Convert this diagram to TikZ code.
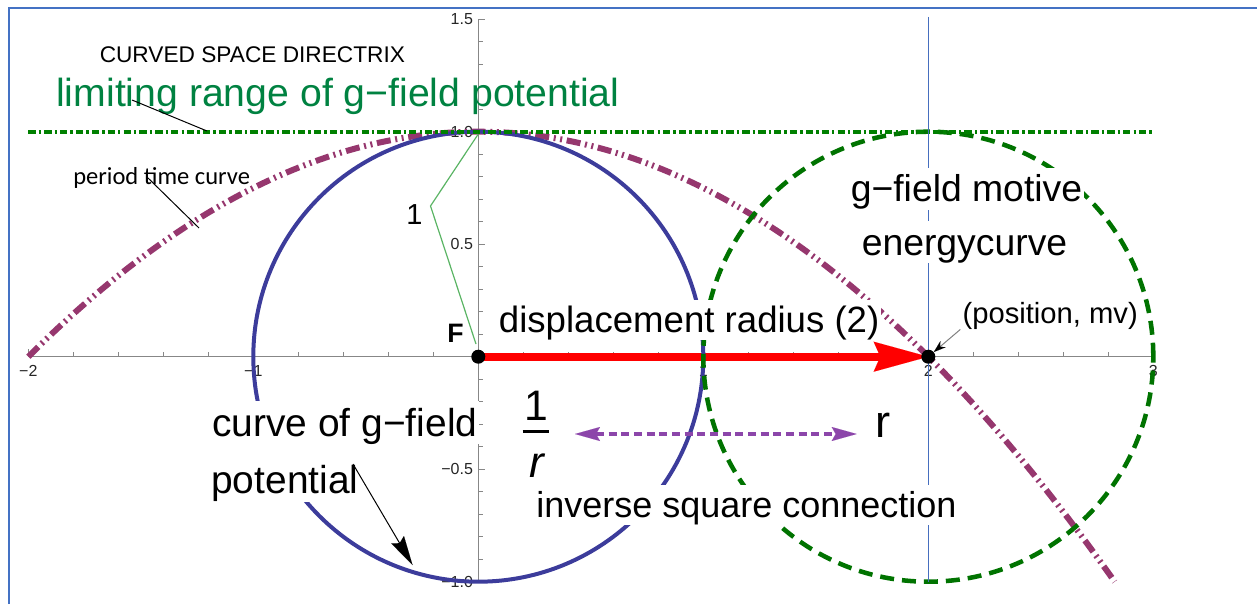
\documentclass[tikz,border=0pt]{standalone}
\usepackage{fontspec}
\setmainfont{Liberation Sans}
\newfontfamily\calib{Carlito}
\usetikzlibrary{arrows.meta}
\definecolor{framec}{RGB}{68,114,196}
\definecolor{axisc}{RGB}{135,135,135}
\definecolor{bluecircc}{RGB}{60,60,155}
\definecolor{greencircc}{RGB}{0,115,0}
\definecolor{limlinec}{RGB}{0,128,0}
\definecolor{parabc}{RGB}{150,55,110}
\definecolor{vlinec}{RGB}{70,110,190}
\definecolor{limc}{RGB}{0,130,65}
\definecolor{brkc}{RGB}{90,180,100}
\definecolor{purpc}{RGB}{140,70,170}
\newcommand\fsz[1]{\fontsize{#1}{#1}\selectfont}
\newcommand\mst{\rule[-0.212em]{0pt}{1.117em}}
\begin{document}
\begin{tikzpicture}[x=0.75pt,y=-0.75pt,
  lab/.style={anchor=base west, inner sep=0pt},
  boxlab/.style={anchor=base west, inner xsep=1.5pt, inner ysep=0pt, fill=white},
  ticklab/.style={inner sep=0pt, font=\fsz{12pt}, text=black!85},
  axisline/.style={draw=axisc, line width=0.9pt},
  dotn/.style={circle, fill=black, inner sep=0pt, minimum size=10.5pt},
  ptr/.style={draw=black, line width=0.75pt},
  bluecirc/.style={draw=bluecircc, line width=3pt},
  greencirc/.style={draw=greencircc, line width=3.4pt, dash pattern=on 10.5pt off 6pt},
  parab/.style={draw=parabc, line width=4.5pt, dash pattern=on 10.5pt off 3.5pt on 1.5pt off 3.4pt on 1.5pt off 3.5pt},
  limline/.style={draw=limlinec, line width=2.8pt, dash pattern=on 5.5pt off 2.3pt on 1.8pt off 2.3pt},
  vline/.style={draw=vlinec, line width=1.1pt},
  brk/.style={draw=brkc, line width=0.9pt},
  purp/.style={draw=purpc, line width=3pt, dash pattern=on 6pt off 3.5pt},
]
\useasboundingbox (0,0) rectangle (1257,604);
\draw[framec, line width=1.5pt] (9,604) -- (9,8) -- (1257,8);

\begin{scope}[shift={(478.3,356.7)}, x=168.75pt, y=168.75pt]
  % axes
  \draw[axisline] (-2,0) -- (3,0);
  \draw[axisline] (0,-1) -- (0,1.5);
  \foreach \i in {-10,...,15} \draw[axisline] (\i/5,0) -- ++(0pt,3.4pt);
  \foreach \i in {-2,...,3} \draw[axisline] (\i,0) -- ++(0pt,6pt);
  \foreach \i in {-10,...,15} \draw[axisline] (0,\i/10) -- ++(3.3pt,0pt);
  \foreach \i in {-2,...,3} \draw[axisline] (0,\i/2) -- ++(5.3pt,0pt);
  \foreach \v/\t/\n in {-2/{−2}/a,-1/{−1}/b,1/1/c,2/2/d,3/3/e}
    \node[ticklab, anchor=north, yshift=-6.2pt] (xt\n) at (\v,0) {\t};
  \foreach \v/\t/\n in {1.5/1.5/a,1/1.0/b,0.5/0.5/c,-0.5/{−0.5}/d,-1/{−1.0}/e}
    \node[ticklab, anchor=east, xshift=-3.8pt] (yt\n) at (0,\v) {\t};
  % red displacement arrow
  \coordinate (O) at (0,0);
  \coordinate (P) at (2,0);
  \draw[red, line width=6pt, -{Stealth[length=41pt,width=22.5pt,inset=5pt,line width=0.01pt]}] (O) -- (P);
  % curves
  \draw[parab] (-2,0) .. controls (-0.3905,1.6095) and (1.2189,1.2761) .. (2.8284,-1);
  \draw[bluecirc] (O) circle[radius=1];
  \draw[greencirc] (P) circle[radius=1];
  \draw[limline] (-2,1) -- (3,1);
  \draw[vline] (2,1.51) -- (2,-1);
\end{scope}

% bracket for the "1"
\coordinate (bt) at (478.3,134);
\coordinate (bk) at (430.5,206);
\coordinate (bb) at (476,344);
\draw[brk] (bt) -- (bk) -- (bb);

% points
\node[dotn] (F) at (O) {};
\node[dotn] (Pt) at (P) {};

% labels
\node[lab, font=\fsz{17pt}] (dir) at (99.5,62) {CURVED SPACE DIRECTRIX};
\node[lab, font=\fsz{29.4pt}, text=limc] (lim) at (56,106) {limiting range of g−field potential};
\node[lab, font=\calib\fsz{18.4pt}] (per) at (73,184) {period time curve};
\node[lab, font=\fsz{21.7pt}] (one) at (406,224) {1};
\node[lab, font=\bfseries\fsz{20pt}] (Flab) at (447,342.7) {F};
\node[boxlab, font=\fsz{27.45pt}] (disp) at (496.7,332.7) {\mst displacement radius (2)};
\node[boxlab, font=\fsz{28pt}] (gfm) at (848.5,201.7) {\mst g−field motive};
\node[boxlab, font=\fsz{28pt}] (energy) at (859.5,255) {\mst energycurve};
\node[boxlab, font=\fsz{21.9pt}] (pos) at (960.3,323) {\mst (position, mv)};
\node[boxlab, font=\fsz{29.2pt}] (curve) at (210,436) {\mst curve of g−field};
\node[boxlab, font=\fsz{29.2pt}] (pot) at (209,493.3) {\rule[-6.2pt]{0pt}{43pt}potential};
\node[boxlab, font=\fsz{27pt}] (inv) at (534,517.7) {\mst inverse square connection};
\node[anchor=base, inner sep=0pt, font=\fsz{32pt}] (fnum) at (536,420) {1};
\node[anchor=base, inner sep=0pt, font=\itshape\fsz{33pt}] (fden) at (537,477.7) {r};
\draw[line width=2.25pt] (522.7,431.7) -- (549,431.7);
\node[lab, font=\fsz{34pt}] (rr) at (875,437.3) {r};

% inverse square double arrow
\coordinate (pa) at (575,434);
\coordinate (pb) at (856.7,434);
\draw[purp, {Stealth[length=18.75pt,width=10.5pt,inset=3pt,line width=0.01pt]}-{Stealth[length=18.75pt,width=10.5pt,inset=3pt,line width=0.01pt]}] (pa) -- (pb);

% pointers
\coordinate (limA) at (132,100);
\coordinate (limB) at (207,131);
\draw[ptr] (limA) -- (limB);
\coordinate (perA) at (147,177);
\coordinate (perB) at (199,228);
\draw[ptr] (perA) -- (perB);
\coordinate (cA) at (353,464);
\coordinate (cB) at (412.5,565);
\draw[ptr, -{Stealth[length=22pt,width=11pt,inset=3pt,line width=0.01pt]}] (cA) -- (cB);
\draw[draw=gray, line width=0.75pt, -{Stealth[length=9pt,width=6pt,color=black,line width=0.01pt]}] (pos.south west) -- (Pt);
\end{tikzpicture}
\end{document}
